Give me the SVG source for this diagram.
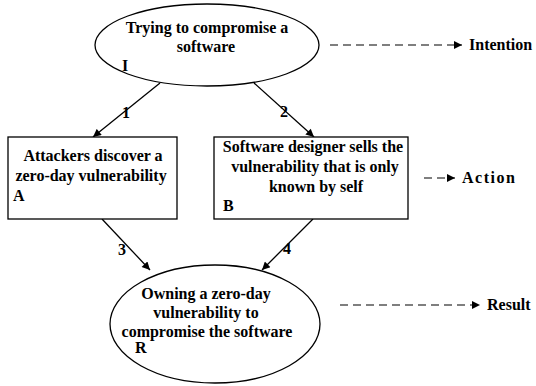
<svg xmlns="http://www.w3.org/2000/svg" width="536" height="386" viewBox="0 0 536 386">
<defs>
<marker id="ah" viewBox="0 0 10 10" refX="10" refY="5" markerWidth="9" markerHeight="8" markerUnits="userSpaceOnUse" orient="auto"><path d="M0,0 L10,5 L0,10 z" fill="#000"/></marker>
<marker id="ahd" viewBox="0 0 10 10" refX="10" refY="5" markerWidth="10" markerHeight="8" markerUnits="userSpaceOnUse" orient="auto"><path d="M0,0 L10,5 L0,10 z" fill="#000"/></marker>
<style>
.t{font-family:"Liberation Serif","Times New Roman",serif;font-weight:bold;font-size:16px;fill:#000}
.c{text-anchor:middle}
.s{fill:#fff;stroke:#000;stroke-width:1.3}
.l{stroke:#000;stroke-width:1.3;fill:none;marker-end:url(#ah)}
.d{stroke:#000;stroke-width:1.2;fill:none;stroke-dasharray:8,5;marker-end:url(#ahd)}
</style>
</defs>
<rect width="536" height="386" fill="#fff"/>
<g id="connectors">
<line class="l" x1="160" y1="83" x2="93" y2="137"/>
<line class="l" x1="254" y1="83" x2="314" y2="137"/>
<line class="l" x1="102" y1="219" x2="150" y2="270"/>
<line class="l" x1="313" y1="219" x2="262" y2="270"/>
<text class="t c" x="126" y="118">1</text>
<text class="t c" x="284" y="117">2</text>
<text class="t c" x="122" y="255">3</text>
<text class="t c" x="287" y="254">4</text>
<line class="d" x1="330" y1="45" x2="462" y2="45"/>
<line class="d" x1="424" y1="178" x2="455" y2="178"/>
<line class="d" x1="340" y1="305" x2="480" y2="305"/>
</g>
<g id="nodeI">
<ellipse class="s" cx="207" cy="45" rx="112" ry="41"/>
<text class="t c" x="207" y="33">Trying to compromise a</text>
<text class="t c" x="206" y="52">software</text>
<text class="t" x="122" y="71">I</text>
</g>
<g id="nodeA">
<rect class="s" x="8" y="137" width="169" height="82"/>
<text class="t c" x="93" y="161">Attackers discover a</text>
<text class="t c" x="91" y="181">zero-day vulnerability</text>
<text class="t" x="13" y="201">A</text>
</g>
<g id="nodeB">
<rect class="s" x="214" y="137" width="194" height="82"/>
<text class="t c" x="313" y="152">Software designer sells the</text>
<text class="t c" x="315" y="172">vulnerability that is only</text>
<text class="t c" x="316" y="192">known by self</text>
<text class="t" x="223" y="211">B</text>
</g>
<g id="nodeR">
<ellipse class="s" cx="215" cy="324" rx="105" ry="59"/>
<text class="t c" x="206" y="299">Owning a zero-day</text>
<text class="t c" x="206" y="318">vulnerability to</text>
<text class="t c" x="207" y="337">compromise the software</text>
<text class="t" x="135" y="353">R</text>
</g>
<g id="labels">
<text class="t" x="469" y="50">Intention</text>
<text class="t" x="462" y="183" letter-spacing="1.5">Action</text>
<text class="t" x="487" y="310">Result</text>
</g>
</svg>
